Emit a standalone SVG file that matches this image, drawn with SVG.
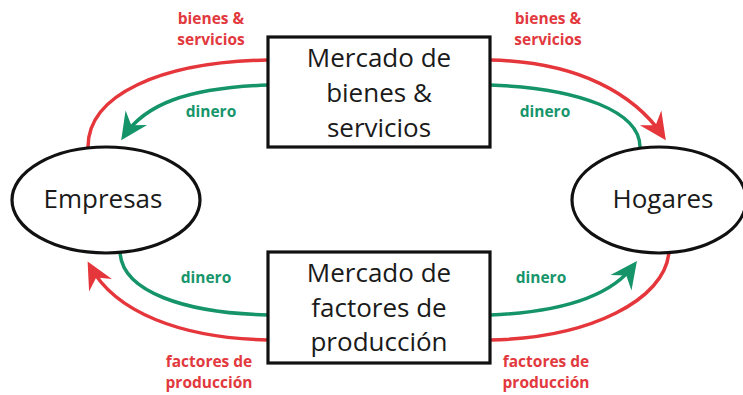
<svg xmlns="http://www.w3.org/2000/svg" width="743" height="395" viewBox="0 0 743 395">
<style>
.node{fill:#fff;stroke:#111;stroke-width:3.2}
.big{font-family:"Open Sans","Liberation Sans",sans-serif;font-size:26px;fill:#1a1a1a;text-anchor:middle}
.lbl{font-family:"Open Sans","Liberation Sans",sans-serif;font-size:15.5px;font-weight:bold;text-anchor:middle}
.red{stroke:#e5363c;fill:none;stroke-width:3.5}
.grn{stroke:#15946a;fill:none;stroke-width:3.5}
.rt{fill:#e2393e}
.gt{fill:#17956b}
</style>
<defs>
<marker id="ar" viewBox="-28 -15 30 30" refX="-5" refY="0" markerWidth="30" markerHeight="30" markerUnits="userSpaceOnUse" orient="auto">
<path d="M0,0 L-27,-13 L-18,0 L-27,13 Z" fill="#e5363c"/>
</marker>
<marker id="ag" viewBox="-28 -15 30 30" refX="-5" refY="0" markerWidth="30" markerHeight="30" markerUnits="userSpaceOnUse" orient="auto">
<path d="M0,0 L-27,-13 L-18,0 L-27,13 Z" fill="#15946a"/>
</marker>
</defs>
<g id="connectors">
<path class="red" d="M268,60 C160,62 88,95 88,147"/>
<path class="grn" d="M268,85 C185,88 145,105 124,136" marker-end="url(#ag)"/>
<path class="red" d="M490,60 C580,62 635,95 663,136" marker-end="url(#ar)"/>
<path class="grn" d="M490,85 C580,88 640,112 640,147"/>
<path class="grn" d="M120,252 C122,292 185,313 268,315"/>
<path class="red" d="M268,340 C180,338 115,312 90,266" marker-end="url(#ar)"/>
<path class="grn" d="M490,315 C565,312 612,295 634,265" marker-end="url(#ag)"/>
<path class="red" d="M669,252 C665,300 590,338 490,340"/>
</g>
<g id="labels">
<text class="lbl rt" x="211" y="24">bienes &amp;</text>
<text class="lbl rt" x="211" y="45">servicios</text>
<text class="lbl rt" x="548" y="24">bienes &amp;</text>
<text class="lbl rt" x="548" y="45">servicios</text>
<text class="lbl gt" x="211" y="117">dinero</text>
<text class="lbl gt" x="545" y="117">dinero</text>
<text class="lbl gt" x="206" y="283">dinero</text>
<text class="lbl gt" x="541" y="283">dinero</text>
<text class="lbl rt" x="209" y="367">factores de</text>
<text class="lbl rt" x="209" y="388">producción</text>
<text class="lbl rt" x="546" y="367">factores de</text>
<text class="lbl rt" x="546" y="388">producción</text>
</g>
<g id="mercado-bienes">
<rect class="node" x="268" y="37" width="222" height="110"/>
<text class="big" x="379" y="67">Mercado de</text>
<text class="big" x="379" y="102">bienes &amp;</text>
<text class="big" x="379" y="137">servicios</text>
</g>
<g id="mercado-factores">
<rect class="node" x="268" y="252" width="222" height="111"/>
<text class="big" x="379" y="282">Mercado de</text>
<text class="big" x="379" y="317">factores de</text>
<text class="big" x="379" y="351">producción</text>
</g>
<g id="empresas">
<ellipse class="node" cx="106" cy="200" rx="94" ry="53"/>
<text class="big" x="103" y="208">Empresas</text>
</g>
<g id="hogares">
<ellipse class="node" cx="659" cy="200" rx="87" ry="53"/>
<text class="big" x="663" y="208">Hogares</text>
</g>
</svg>
